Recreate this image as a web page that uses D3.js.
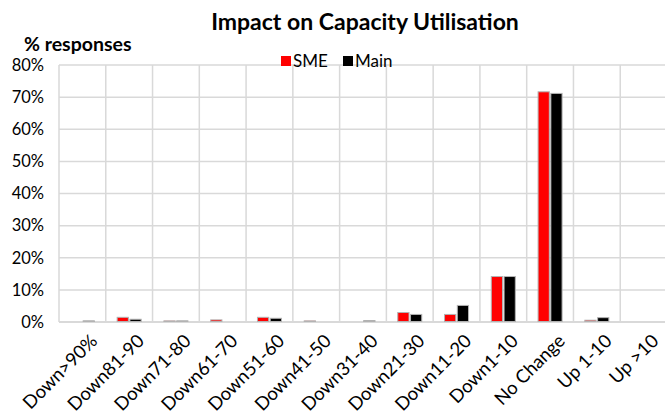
<!DOCTYPE html>
<html><head><meta charset="utf-8">
<script src="https://cdn.jsdelivr.net/npm/d3@7"></script>
<style>body{margin:0;background:#fff}svg{display:block}text{font-family:Lato,"Open Sans",sans-serif}</style>
</head><body><svg id="c" width="665" height="418"></svg>
<script>
const categories = ["Down>90%","Down81-90","Down71-80","Down61-70","Down51-60","Down41-50","Down31-40","Down21-30","Down11-20","Down1-10","No Change","Up 1-10","Up >10"];
const smeValues  = [0, 1.3, 0.2, 0.5, 1.3, 0.2, 0, 2.8, 2.2, 14.0, 71.5, 0.4, 0];
const mainValues = [0.2, 0.7, 0.2, 0, 1.0, 0, 0.3, 2.2, 5.0, 14.0, 71.0, 1.2, 0];
const yTicks = [0,10,20,30,40,50,60,70,80];
const seriesNames = ["SME","Main"];
const seriesColors = ["#ff0000","#000000"];

const svg = d3.select("#c");
const m = {l:59, r:667, t:65, b:322};
const x = d3.scaleBand().domain(categories).range([m.l, m.r]);
const y = d3.scaleLinear().domain([0,80]).range([m.b, m.t]);
const xs = d3.scaleBand().domain(seriesNames).range([0, 24]).paddingInner(0.12);

// gridlines
svg.append("g").selectAll("line").data(yTicks).join("line")
  .attr("x1", m.l).attr("x2", m.r).attr("y1", d=>y(d)).attr("y2", d=>y(d))
  .attr("stroke", "#d9d9d9").attr("stroke-width", 1.5);
svg.append("g").selectAll("line").data(categories).join("line")
  .attr("x1", d=>x(d)).attr("x2", d=>x(d)).attr("y1", m.t).attr("y2", m.b)
  .attr("stroke", "#d9d9d9").attr("stroke-width", 1.5);

// baseline
svg.append("line").attr("x1", m.l).attr("x2", m.r).attr("y1", y(0)).attr("y2", y(0))
  .attr("stroke", "#d9d9d9").attr("stroke-width", 2);

// bars
const series = [smeValues, mainValues];
series.forEach((vals, si) => {
  svg.append("g").selectAll("rect").data(vals.map((v,i)=>({v,i})).filter(d=>d.v>0)).join("rect")
    .attr("x", d => x(categories[d.i]) + x.bandwidth()/2 - 12 + xs(seriesNames[si]))
    .attr("width", xs.bandwidth())
    .attr("y", d => y(d.v) - 0.5)
    .attr("height", d => y(0) - y(d.v))
    .attr("fill", seriesColors[si])
    .attr("stroke", "#b3b3b3").attr("stroke-width", 1);
});

// y axis labels
svg.append("g").selectAll("text").data(yTicks).join("text")
  .attr("x", 44).attr("y", d=>y(d)).attr("dy", "0.35em").attr("text-anchor","end")
  .attr("font-size", 16.5).attr("fill","#000").text(d => d + "%");

// x axis labels
svg.append("g").selectAll("text").data(categories).join("text")
  .attr("transform", d => `translate(${x(d)+x.bandwidth()/2+7},${333}) rotate(-45)`)
  .attr("text-anchor","end").attr("dy","0.7em")
  .attr("font-size", 18.5).attr("fill","#000").text(d=>d);

// title
svg.append("text").attr("x", 365).attr("y", 30).attr("text-anchor","middle")
  .attr("font-size", 23).attr("font-weight","bold").text("Impact on Capacity Utilisation");
svg.append("text").attr("x", 24).attr("y", 51)
  .attr("font-size", 19.5).attr("font-weight","bold").text("% responses");

// legend
const lg = svg.append("g");
const lx = [281, 343];
seriesNames.forEach((n,i)=>{
  lg.append("rect").attr("x", lx[i]).attr("y", 56).attr("width", 10).attr("height", 10).attr("fill", seriesColors[i]);
  lg.append("text").attr("x", lx[i]+12).attr("y", 61).attr("dy","0.35em").attr("font-size",17).text(n);
});
</script></body></html>
